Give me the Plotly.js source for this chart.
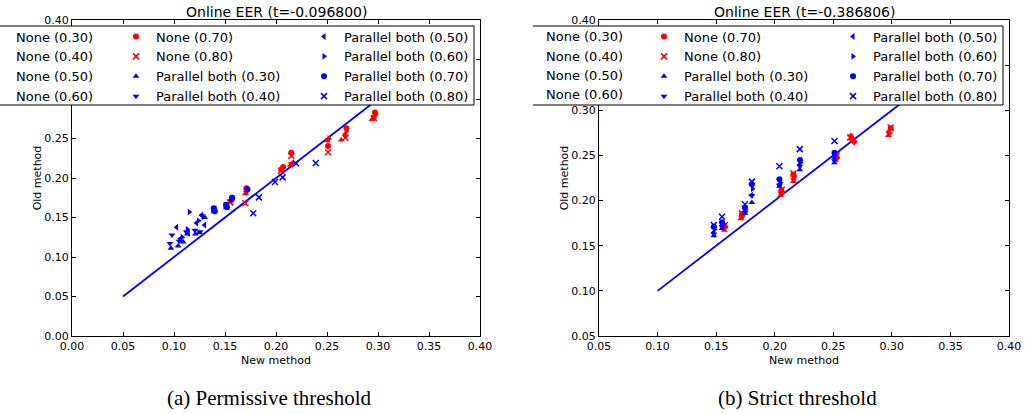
<!DOCTYPE html>
<html><head><meta charset="utf-8">
<script src="https://cdn.plot.ly/plotly-3.0.1.min.js"></script>
<style>html,body{margin:0;padding:0;background:#fff}#chart{width:1025px;height:414px}</style>
</head><body><div id="chart"></div><script>
// ---------- labels ----------
const seriesLabels = ['None (0.30)','None (0.40)','None (0.50)','None (0.60)','None (0.70)','None (0.80)',
  'Parallel both (0.30)','Parallel both (0.40)','Parallel both (0.50)','Parallel both (0.60)','Parallel both (0.70)','Parallel both (0.80)'];
const titleLeft = 'Online EER (t=-0.096800)';
const titleRight = 'Online EER (t=-0.386806)';
const captionLeft = '(a) Permissive threshold';
const captionRight = '(b) Strict threshold';
const xTitle = 'New method';
const yTitle = 'Old method';
const ticksLeft = [0.00,0.05,0.10,0.15,0.20,0.25,0.30,0.35,0.40];
const ticksRight = [0.05,0.10,0.15,0.20,0.25,0.30,0.35,0.40];
const refLineLeftX = [0.05, 0.32];
const refLineRightX = [0.10, 0.32];

// ---------- (a) permissive threshold ----------
const permNone30X = [0.155,0.170,0.205,0.214,0.250,0.264,0.294];
const permNone30Y = [0.170,0.180,0.210,0.216,0.247,0.248,0.274];
const permNone40X = [0.156,0.171,0.206,0.215,0.251,0.268,0.296];
const permNone40Y = [0.171,0.182,0.212,0.218,0.248,0.253,0.277];
const permNone50X = [0.156,0.171,0.206,0.216,0.251,0.268,0.297];
const permNone50Y = [0.172,0.183,0.212,0.219,0.249,0.256,0.279];
const permNone60X = [0.157,0.172,0.207,0.217,0.252,0.269,0.298];
const permNone60Y = [0.173,0.185,0.213,0.217,0.250,0.259,0.281];
const permNone70X = [0.157,0.171,0.207,0.215,0.251,0.269,0.297];
const permNone70Y = [0.175,0.187,0.214,0.232,0.2405,0.263,0.283];
const permNone80X = [0.155,0.170,0.205,0.215,0.251,0.268,0.296];
const permNone80Y = [0.169,0.168,0.209,0.228,0.2325,0.251,0.276];
const permPar30X = [0.097,0.104,0.109,0.113,0.121,0.125,0.130];
const permPar30Y = [0.111,0.114,0.119,0.129,0.129,0.131,0.150];
const permPar40X = [0.096,0.098,0.105,0.112,0.1205,0.1255,0.128];
const permPar40Y = [0.117,0.128,0.120,0.132,0.134,0.132,0.152];
const permPar50X = [0.1026,0.106,0.114,0.122,0.130,0.127,0.140];
const permPar50Y = [0.1376,0.123,0.130,0.143,0.1405,0.153,0.161];
const permPar60X = [0.115,0.108,0.113,0.124,0.129,0.138,0.150];
const permPar60Y = [0.157,0.125,0.135,0.146,0.151,0.159,0.164];
const permPar70X = [0.139,0.140,0.151,0.152,0.1566,0.157,0.172];
const permPar70Y = [0.1616,0.158,0.166,0.163,0.173,0.175,0.1857];
const permPar80X = [0.1777,0.1833,0.199,0.2065,0.2196,0.239];
const permPar80Y = [0.1553,0.1755,0.195,0.2008,0.2186,0.219];

// ---------- (b) strict threshold ----------
const strictNone30X = [0.157,0.171,0.205,0.216,0.252,0.265,0.297];
const strictNone30Y = [0.167,0.180,0.206,0.221,0.245,0.272,0.272];
const strictNone40X = [0.157,0.172,0.206,0.216,0.253,0.268,0.298];
const strictNone40Y = [0.169,0.181,0.207,0.223,0.246,0.264,0.274];
const strictNone50X = [0.157,0.172,0.2055,0.2165,0.2525,0.267,0.297];
const strictNone50Y = [0.170,0.183,0.209,0.225,0.247,0.265,0.276];
const strictNone60X = [0.158,0.1725,0.206,0.217,0.253,0.268,0.298];
const strictNone60Y = [0.171,0.184,0.210,0.227,0.248,0.266,0.278];
const strictNone70X = [0.157,0.172,0.2056,0.216,0.2526,0.266,0.299];
const strictNone70Y = [0.172,0.185,0.211,0.229,0.249,0.268,0.280];
const strictNone80X = [0.1575,0.172,0.206,0.216,0.253,0.2645,0.299];
const strictNone80Y = [0.173,0.186,0.212,0.230,0.250,0.270,0.281];
const strictPar30X = [0.148,0.155,0.1745,0.1805,0.204,0.2214,0.251];
const strictPar30Y = [0.161,0.169,0.186,0.198,0.216,0.234,0.242];
const strictPar40X = [0.148,0.155,0.1748,0.1805,0.204,0.2214,0.251];
const strictPar40Y = [0.163,0.171,0.187,0.2055,0.217,0.238,0.244];
const strictPar50X = [0.148,0.155,0.175,0.180,0.2045,0.2214,0.251];
const strictPar50Y = [0.165,0.172,0.188,0.206,0.219,0.240,0.247];
const strictPar60X = [0.1485,0.156,0.175,0.181,0.205,0.222,0.2515];
const strictPar60Y = [0.168,0.174,0.190,0.213,0.220,0.242,0.250];
const strictPar70X = [0.148,0.155,0.1746,0.1805,0.204,0.2216,0.251];
const strictPar70Y = [0.171,0.176,0.192,0.218,0.2235,0.245,0.253];
const strictPar80X = [0.148,0.155,0.1746,0.1805,0.204,0.2214,0.251];
const strictPar80Y = [0.173,0.182,0.196,0.221,0.238,0.257,0.266];

const permXs = [permNone30X,permNone40X,permNone50X,permNone60X,permNone70X,permNone80X,permPar30X,permPar40X,permPar50X,permPar60X,permPar70X,permPar80X];
const permYs = [permNone30Y,permNone40Y,permNone50Y,permNone60Y,permNone70Y,permNone80Y,permPar30Y,permPar40Y,permPar50Y,permPar60Y,permPar70Y,permPar80Y];
const strictXs = [strictNone30X,strictNone40X,strictNone50X,strictNone60X,strictNone70X,strictNone80X,strictPar30X,strictPar40X,strictPar50X,strictPar60X,strictPar70X,strictPar80X];
const strictYs = [strictNone30Y,strictNone40Y,strictNone50Y,strictNone60Y,strictNone70Y,strictNone80Y,strictPar30Y,strictPar40Y,strictPar50Y,strictPar60Y,strictPar70Y,strictPar80Y];

// ---------- styling ----------
const FONT = 'DejaVu Sans';
const RED = '#ff0000', BLUE = '#0000ff';
const symbols = ['triangle-up','triangle-down','triangle-left','triangle-right','circle','x-thin'];

// figure geometry (px)
const W = 1025, H = 414, ML = 72, MR = 16, MT = 20, MB = 78;
const PW = W - ML - MR, PH = H - MT - MB;
const px = v => (v - ML) / PW;      // pixel x -> paper
const py = v => (H - MB - v) / PH;  // pixel y -> paper

function markerFor(i) {
  const color = i < 6 ? RED : BLUE;
  const sym = symbols[i % 6];
  if (sym === 'x-thin') return {symbol: sym, size: 6, color: color, line: {color: color, width: 1.5}};
  return {symbol: sym, size: 6, color: color, line: {width: 0}};
}

const traces = [];
traces.push({x: refLineLeftX, y: refLineLeftX, mode: 'lines', line: {color: BLUE, width: 1.8},
  xaxis: 'x', yaxis: 'y', showlegend: false, hoverinfo: 'skip'});
traces.push({x: refLineRightX, y: refLineRightX, mode: 'lines', line: {color: BLUE, width: 1.8},
  xaxis: 'x2', yaxis: 'y2', showlegend: false, hoverinfo: 'skip'});

for (let i = 0; i < 12; i++) {
  const col = Math.floor(i / 4);
  traces.push({x: permXs[i], y: permYs[i], mode: 'markers', name: seriesLabels[i], marker: markerFor(i),
    xaxis: 'x', yaxis: 'y', legend: ['legend','legend2','legend3'][col]});
}
for (let i = 0; i < 12; i++) {
  const col = Math.floor(i / 4);
  const t = {x: strictXs[i], y: strictYs[i], mode: 'markers', name: seriesLabels[i], marker: markerFor(i),
    xaxis: 'x2', yaxis: 'y2'};
  if (col === 0) t.showlegend = false; else t.legend = ['legend4','legend5','legend6'][col];
  traces.push(t);
}

const axisBase = {showline: true, linecolor: '#000', linewidth: 1, mirror: 'ticks', ticks: 'inside',
  ticklen: 4, tickcolor: '#000', showgrid: false, zeroline: false, tickformat: '.2f',
  tickfont: {family: FONT, size: 11, color: '#000'}, fixedrange: true};

const legendBase = {orientation: 'v', xanchor: 'left', yanchor: 'top', bgcolor: 'rgba(0,0,0,0)', borderwidth: 0,
  font: {family: FONT, size: 13, color: '#000'}, traceorder: 'normal'};
const legTop = py(21.5);

const layout = {
  width: W, height: H, paper_bgcolor: '#fff', plot_bgcolor: '#fff',
  margin: {l: ML, r: MR, t: MT, b: MB, autoexpand: false},
  font: {family: FONT, color: '#000'},
  xaxis: Object.assign({}, axisBase, {domain: [0, px(480)], range: [0, 0.4], tickvals: ticksLeft, anchor: 'y',
    title: {text: xTitle, font: {family: FONT, size: 11}, standoff: 4}}),
  yaxis: Object.assign({}, axisBase, {domain: [0, 1], range: [0, 0.4], tickvals: ticksLeft, anchor: 'x',
    title: {text: yTitle, font: {family: FONT, size: 11}, standoff: 0}}),
  xaxis2: Object.assign({}, axisBase, {domain: [px(599), 1], range: [0.05, 0.4], tickvals: ticksRight, anchor: 'y2',
    title: {text: xTitle, font: {family: FONT, size: 11}, standoff: 4}}),
  yaxis2: Object.assign({}, axisBase, {domain: [0, 1], range: [0.05, 0.4], tickvals: ticksRight, anchor: 'x2',
    title: {text: yTitle, font: {family: FONT, size: 11}, standoff: 0}}),
  legend: Object.assign({}, legendBase, {x: px(-24), y: legTop}),
  legend2: Object.assign({}, legendBase, {x: px(116), y: legTop}),
  legend3: Object.assign({}, legendBase, {x: px(304), y: legTop}),
  legend5: Object.assign({}, legendBase, {x: px(644), y: legTop}),
  legend6: Object.assign({}, legendBase, {x: px(833), y: legTop}),
  shapes: [
    {type: 'rect', xref: 'paper', yref: 'paper', x0: px(-20), x1: px(474), y0: py(105), y1: py(26),
      fillcolor: '#fff', line: {width: 0}, layer: 'above'},
    {type: 'path', xref: 'paper', yref: 'paper', layer: 'above', line: {color: '#000', width: 1},
      path: `M ${px(-20)} ${py(26)} L ${px(474)} ${py(26)} L ${px(474)} ${py(105)} L ${px(-20)} ${py(105)}`},
    {type: 'rect', xref: 'paper', yref: 'paper', x0: px(533), x1: px(1003), y0: py(105), y1: py(26),
      fillcolor: '#fff', line: {width: 0}, layer: 'above'},
    {type: 'path', xref: 'paper', yref: 'paper', layer: 'above', line: {color: '#000', width: 1},
      path: `M ${px(533)} ${py(26)} L ${px(1003)} ${py(26)} L ${px(1003)} ${py(105)} L ${px(533)} ${py(105)}`}
  ],
  annotations: [
    {text: titleLeft, xref: 'paper', yref: 'paper', x: px(276), y: py(12), showarrow: false,
      xanchor: 'center', yanchor: 'middle', font: {family: FONT, size: 14, color: '#000'}},
    {text: titleRight, xref: 'paper', yref: 'paper', x: px(804), y: py(12), showarrow: false,
      xanchor: 'center', yanchor: 'middle', font: {family: FONT, size: 14, color: '#000'}},
    {text: captionLeft, xref: 'paper', yref: 'paper', x: px(269), y: py(398), showarrow: false,
      xanchor: 'center', yanchor: 'middle', font: {family: 'Liberation Serif', size: 21, color: '#000'}},
    {text: captionRight, xref: 'paper', yref: 'paper', x: px(797), y: py(398), showarrow: false,
      xanchor: 'center', yanchor: 'middle', font: {family: 'Liberation Serif', size: 21, color: '#000'}}
  ]
};
// right panel, first legend column (its markers fall outside the cropped figure)
for (let r = 0; r < 4; r++) {
  layout.annotations.push({text: seriesLabels[r], xref: 'paper', yref: 'paper', x: px(544), y: py(37 + r * 19),
    showarrow: false, xanchor: 'left', yanchor: 'middle', font: {family: FONT, size: 13, color: '#000'}});
}

Plotly.newPlot('chart', traces, layout, {displayModeBar: false, staticPlot: true});
</script></body></html>
